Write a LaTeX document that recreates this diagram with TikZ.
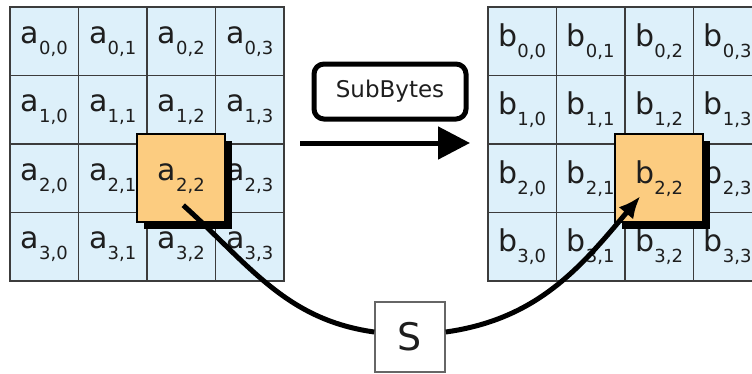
\documentclass[tikz,border=0pt]{standalone}
\usepackage{fontspec}
\setsansfont{DejaVu Sans}
\usepackage{xcolor}
\usetikzlibrary{arrows.meta, shadows}
\definecolor{cellblue}{RGB}{221,240,250}
\definecolor{hotorange}{RGB}{252,204,128}
\definecolor{gridgray}{RGB}{60,60,60}
\definecolor{inkgray}{RGB}{30,30,30}
\newcommand{\cellval}[2]{#1\raisebox{-11pt}{\fontsize{18}{18}\selectfont #2}}

\begin{document}
\begin{tikzpicture}[x=1pt, y=1pt, font=\sffamily, text=inkgray,
  cell/.style={draw=gridgray, line width=1.8pt, fill=cellblue, minimum size=68.5pt, inner sep=0pt, font=\sffamily\fontsize{30}{30}\selectfont},
  hot/.style={cell, draw=black, fill=hotorange, minimum size=88pt, drop shadow={shadow xshift=7pt, shadow yshift=-7pt, fill=black, opacity=1}},
  op/.style={draw=black, line width=5pt, rounded corners=10pt, minimum width=152pt, minimum height=55pt, font=\sffamily\fontsize{23}{23}\selectfont},
  sbox/.style={draw=black!60, line width=1.5pt, fill=white, minimum size=70pt, inner sep=0pt, font=\sffamily\fontsize{38}{38}\selectfont},
  wire/.style={line width=5pt, draw=black}]
  \clip (0,0) rectangle (752,-373);
  % state before and after SubBytes
  \foreach \r in {0,...,3}
    \foreach \c in {0,...,3} {
      \node[cell] (a\r\c) at ({44.25+68.5*\c},{-41.25-68.5*\r}) {\cellval{a}{\r,\c}};
      \node[cell] (b\r\c) at ({522.25+68.5*\c},{-41.25-68.5*\r}) {\cellval{b}{\r,\c}};
    }
  \node[hot] (sa) at (a22) {\cellval{a}{2,2}};
  \node[hot] (sb) at (b22) {\cellval{b}{2,2}};
  % the step
  \node[op] (sub) at (390,-91.5) {SubBytes};
  \coordinate (fwd0) at (300,-143);
  \coordinate (fwd1) at (470,-143);
  \draw[wire,-{Triangle[length=32pt,width=32pt]}] (fwd0) -- (fwd1);
  % one byte through the S-box
  \node[sbox] (S) at (410,-337) {S};
  \coordinate (src) at ([shift={(2,-27)}]sa.center);
  \coordinate (dst) at ([shift={(-19,-18)}]sb.center);
  \draw[wire] (src) to[out=-42,in=172] ([yshift=5pt]S.west);
  \draw[wire,-{Latex[length=22pt,width=19pt]}] ([yshift=5pt]S.east) to[out=8,in=-130] (dst);
\end{tikzpicture}
\end{document}
